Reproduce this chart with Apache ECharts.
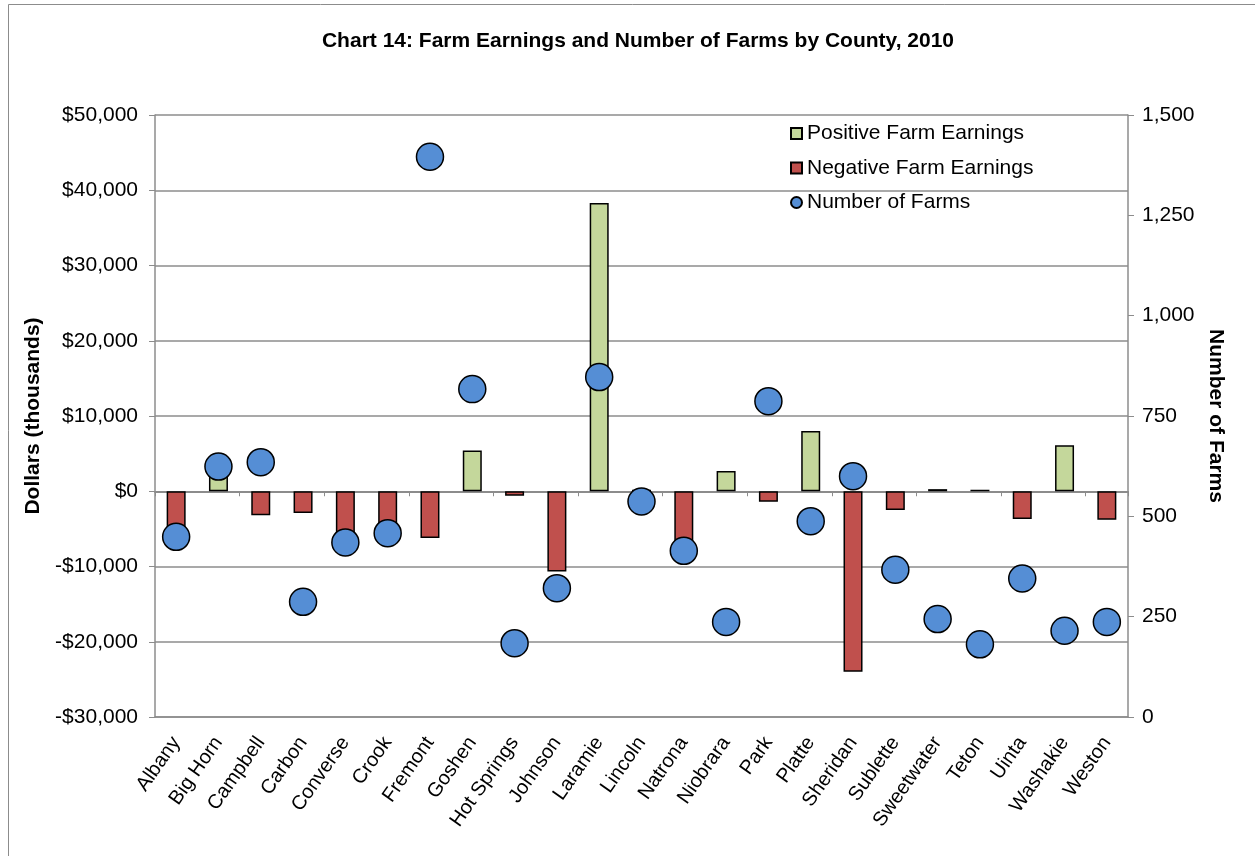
<!DOCTYPE html>
<html>
<head>
<meta charset="utf-8">
<script src="https://cdn.jsdelivr.net/npm/echarts@6/dist/echarts.min.js"></script>
<style>
  html, body { margin: 0; padding: 0; background: #fff; }
  #chart { width: 1255px; height: 856px; }
</style>
</head>
<body>
<div id="chart"></div>
<script>
var counties = ["Albany", "Big Horn", "Campbell", "Carbon", "Converse", "Crook", "Fremont", "Goshen",
  "Hot Springs", "Johnson", "Laramie", "Lincoln", "Natrona", "Niobrara", "Park", "Platte",
  "Sheridan", "Sublette", "Sweetwater", "Teton", "Uinta", "Washakie", "Weston"];

// farm earnings, thousands of dollars
var positiveEarnings = ["-", 2500, "-", "-", "-", "-", "-", 5400,
  "-", "-", 38300, 200, "-", 2700, "-", 8000,
  "-", "-", 280, 200, "-", 6100, "-"];
var negativeEarnings = [-6000, "-", -3200, -2900, -6000, -5200, -6200, "-",
  -600, -10650, "-", "-", -7200, "-", -1400, "-",
  -24000, -2500, "-", "-", -3700, "-", -3800];

var numberOfFarms = [449, 624, 635, 287, 435, 458, 1396, 817,
  184, 321, 847, 537, 414, 237, 787, 488,
  600, 367, 244, 181, 345, 215, 237];

var font = "Liberation Sans, Arial, sans-serif";

function dollars(v) {
  var s = Math.abs(v).toLocaleString("en-US");
  return (v < 0 ? "-$" : "$") + s;
}

var myChart = echarts.init(document.getElementById("chart"));

myChart.setOption({
  animation: false,
  backgroundColor: "#fff",
  textStyle: { fontFamily: font },
  title: {
    text: "Chart 14: Farm Earnings and Number of Farms by County, 2010",
    left: 633,
    textAlign: "center",
    top: 26,
    textStyle: { fontSize: 21, fontWeight: "bold", color: "#000", fontFamily: font }
  },
  graphic: [
    {
      type: "rect",
      shape: { x: 8.5, y: 4.5, width: 1260, height: 860 },
      style: { fill: "none", stroke: "#8c8c8c", lineWidth: 1 },
      silent: true
    }
  ],
  legend: {
    orient: "vertical",
    left: 785,
    top: 118,
    itemGap: 13.5,
    itemWidth: 11,
    itemHeight: 11,
    textStyle: { fontSize: 21, color: "#000", fontFamily: font },
    data: [
      { name: "Positive Farm Earnings", icon: "rect" },
      { name: "Negative Farm Earnings", icon: "rect" },
      { name: "Number of Farms", icon: "circle" }
    ]
  },
  grid: { left: 155, right: 127, top: 115, bottom: 139 },
  xAxis: [
    {
      type: "category",
      data: counties,
      axisLine: { onZero: false, lineStyle: { color: "#8c8c8c", width: 1.5 } },
      axisTick: { show: false },
      axisLabel: { rotate: 55, fontSize: 20, color: "#000", margin: 22, interval: 0, fontFamily: font }
    },
    {
      type: "category",
      data: counties,
      position: "bottom",
      axisLine: { onZero: true, lineStyle: { color: "#8c8c8c", width: 2 } },
      axisTick: { show: true, inside: false, length: 5, lineStyle: { color: "#8c8c8c" } },
      axisLabel: { show: false }
    }
  ],
  yAxis: [
    {
      type: "value",
      min: -30000,
      max: 50000,
      interval: 10000,
      name: "Dollars (thousands)",
      nameLocation: "middle",
      nameGap: 110,
      nameTextStyle: { fontSize: 21, fontWeight: "bold", color: "#000", fontFamily: font },
      axisLine: { show: true, lineStyle: { color: "#8c8c8c", width: 1.5 } },
      axisTick: { show: true, length: 6, lineStyle: { color: "#8c8c8c" } },
      axisLabel: { fontSize: 21, color: "#000", margin: 17, formatter: dollars, fontFamily: font },
      splitLine: { lineStyle: { color: "#8c8c8c", width: 1.5 } }
    },
    {
      type: "value",
      min: 0,
      max: 1500,
      interval: 250,
      name: "Number of Farms",
      nameLocation: "middle",
      nameRotate: -90,
      nameGap: 76,
      nameTextStyle: { fontSize: 21, fontWeight: "bold", color: "#000", fontFamily: font },
      axisLine: { show: true, lineStyle: { color: "#8c8c8c", width: 1.5 } },
      axisTick: { show: true, length: 6, lineStyle: { color: "#8c8c8c" } },
      axisLabel: {
        fontSize: 21, color: "#000", margin: 14, fontFamily: font,
        formatter: function (v) { return v.toLocaleString("en-US"); }
      },
      splitLine: { show: false }
    }
  ],
  series: [
    {
      name: "Positive Farm Earnings",
      type: "bar",
      xAxisIndex: 0,
      yAxisIndex: 0,
      stack: "earn",
      barWidth: 19,
      data: positiveEarnings,
      itemStyle: { color: "#c4d79b", borderColor: "#000", borderWidth: 1.5 },
      z: 2
    },
    {
      name: "Negative Farm Earnings",
      type: "bar",
      xAxisIndex: 0,
      yAxisIndex: 0,
      stack: "earn",
      barWidth: 19,
      data: negativeEarnings,
      itemStyle: { color: "#c0504d", borderColor: "#000", borderWidth: 1.5 },
      z: 2
    },
    {
      name: "Number of Farms",
      type: "scatter",
      xAxisIndex: 0,
      yAxisIndex: 1,
      symbol: "circle",
      symbolSize: 27,
      data: numberOfFarms,
      itemStyle: { color: "#558ed5", borderColor: "#000", borderWidth: 1.5, opacity: 1 },
      z: 4
    }
  ]
});
</script>
</body>
</html>
